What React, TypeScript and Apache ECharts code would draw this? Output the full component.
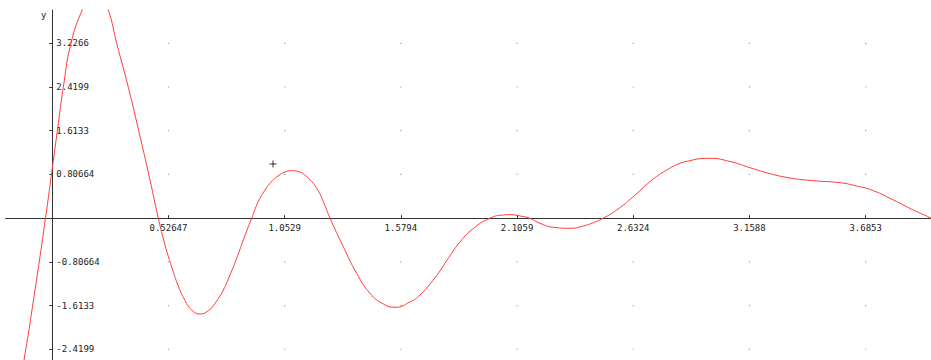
import React, { useEffect, useRef } from "react";
import * as echarts from "echarts";

const xTickValues = [0.52647, 1.0529, 1.5794, 2.1059, 2.6324, 3.1588, 3.6853];
const xTickLabels = ["0.52647", "1.0529", "1.5794", "2.1059", "2.6324", "3.1588", "3.6853"];
const yTickValues = [-2.4199, -1.6133, -0.80664, 0.80664, 1.6133, 2.4199, 3.2266];
const yTickLabels = ["-2.4199", "-1.6133", "-0.80664", "0.80664", "1.6133", "2.4199", "3.2266"];

const xRange = [-0.2118, 4.0];
const yRange = [-2.618, 3.841];

const curveX = [
  -0.2116, -0.1282, -0.0784, -0.0308, 0, 0.0227, 0.0498, 0.0847, 0.1391, 0.1844,
  0.2207, 0.2537, 0.2918, 0.3444, 0.3897, 0.4427, 0.4803, 0.5106, 0.541, 0.5709,
  0.6013, 0.6316, 0.6692, 0.7068, 0.7372, 0.7748, 0.8052, 0.8355, 0.8654, 0.9035,
  0.9334, 0.9638, 0.9864, 1.0227, 1.0544, 1.0847, 1.1133, 1.1527, 1.198, 1.2279,
  1.2583, 1.3185, 1.3792, 1.4395, 1.4998, 1.5528, 1.6208, 1.6661, 1.7114, 1.7567,
  1.787, 1.8473, 1.9076, 1.9832, 2.0435, 2.0738, 2.1192, 2.1613, 2.2098, 2.2701,
  2.3457, 2.406, 2.4513, 2.4966, 2.5573, 2.6325, 2.7082, 2.7839, 2.8441, 2.8894,
  2.9347, 2.98, 3.0707, 3.1581, 3.237, 3.3425, 3.4481, 3.5691, 3.6448, 3.72,
  3.8106, 3.9012, 3.9769, 4.0,
];
const curveY = [
  -4.555, -2.618, -1.326, 0.0, 0.925, 1.608, 2.415, 3.227, 3.878, 4.211,
  4.099, 3.841, 3.227, 2.415, 1.645, 0.704, 0.0, -0.495, -0.901, -1.252,
  -1.52, -1.695, -1.769, -1.708, -1.571, -1.326, -1.049, -0.741, -0.403, 0.0,
  0.304, 0.519, 0.643, 0.778, 0.852, 0.876, 0.861, 0.765, 0.551, 0.304,
  0.0, -0.527, -1.018, -1.387, -1.584, -1.645, -1.547, -1.418, -1.215, -0.975,
  -0.782, -0.44, -0.191, 0.0, 0.058, 0.064, 0.04, 0.0, -0.095, -0.169,
  -0.187, -0.145, -0.084, 0.0, 0.15, 0.396, 0.673, 0.889, 1.012, 1.06,
  1.097, 1.104, 1.045, 0.935, 0.837, 0.741, 0.691, 0.654, 0.593, 0.507,
  0.335, 0.15, 0.008, -0.053,
];

const markerPoint = [1.0, 1.0];

const FONT = "DejaVu Sans Mono";
const PX_PER_X = 220.7;
const PLOT_TOP = 10;
const PLOT_HEIGHT = 350;
const ORIGIN_X = 52.3;

function labelFor(values: number[], labels: string[]) {
  return (v: number) => {
    for (let i = 0; i < values.length; i++) {
      if (Math.abs(values[i] - v) < 1e-6) return labels[i];
    }
    return "";
  };
}

export default function App() {
  const ref = useRef<HTMLDivElement>(null);

  useEffect(() => {
    if (!ref.current) return;
    const chart = echarts.init(ref.current, undefined, { renderer: "svg" });

    const gridDots: number[][] = [];
    xTickValues.forEach((x) => yTickValues.forEach((y) => gridDots.push([x, y])));

    const plotLeft = ORIGIN_X + xRange[0] * PX_PER_X;
    const plotWidth = (xRange[1] - xRange[0]) * PX_PER_X;
    // move axes so they cross at the origin
    const xAxisOffset = -((0 - yRange[0]) / (yRange[1] - yRange[0])) * PLOT_HEIGHT;
    const yAxisOffset = -((0 - xRange[0]) / (xRange[1] - xRange[0])) * plotWidth;

    chart.setOption({
      animation: false,
      backgroundColor: "#ffffff",
      grid: {
        left: plotLeft,
        width: plotWidth,
        top: PLOT_TOP,
        height: PLOT_HEIGHT,
        containLabel: false,
        outerBoundsMode: "none",
      },
      xAxis: {
        type: "value",
        position: "bottom",
        offset: xAxisOffset,
        min: xRange[0],
        max: xRange[1],
        axisLine: { show: true, onZero: false, lineStyle: { color: "#333", width: 1 } },
        axisTick: { show: true, inside: true, length: 3, customValues: xTickValues, lineStyle: { color: "#333" } },
        axisLabel: {
          show: true,
          customValues: xTickValues,
          formatter: labelFor(xTickValues, xTickLabels),
          margin: 5,
          fontFamily: FONT,
          fontSize: 9,
          color: "#222",
        },
        splitLine: { show: false },
      },
      yAxis: {
        type: "value",
        position: "left",
        offset: yAxisOffset,
        min: yRange[0],
        max: yRange[1],
        name: "y",
        nameLocation: "end",
        nameGap: 0,
        nameTextStyle: {
          fontFamily: FONT,
          fontSize: 9,
          color: "#222",
          align: "right",
          verticalAlign: "top",
          padding: [0, 6, 0, 0],
        },
        axisLine: { show: true, onZero: false, lineStyle: { color: "#333", width: 1 } },
        axisTick: { show: true, inside: false, length: 3, customValues: yTickValues, lineStyle: { color: "#333" } },
        axisLabel: {
          show: true,
          inside: true,
          customValues: yTickValues,
          formatter: labelFor(yTickValues, yTickLabels),
          margin: 4,
          fontFamily: FONT,
          fontSize: 9,
          color: "#222",
        },
        splitLine: { show: false },
      },
      series: [
        {
          type: "scatter",
          data: gridDots,
          symbol: "rect",
          symbolSize: 1.2,
          itemStyle: { color: "#888" },
          silent: true,
          z: 1,
        },
        {
          type: "line",
          data: curveX.map((x, i) => [x, curveY[i]]),
          smooth: 0.5,
          showSymbol: false,
          clip: true,
          lineStyle: { color: "#ff3b3b", width: 1 },
          z: 3,
        },
        {
          type: "scatter",
          data: [markerPoint],
          symbol: "path://M5,0L5,10M0,5L10,5",
          symbolSize: 7,
          itemStyle: { color: "none", borderColor: "#000", borderWidth: 1 },
          z: 4,
        },
      ],
    });

    return () => chart.dispose();
  }, []);

  return (
    <div
      ref={ref}
      style={{ position: "fixed", left: 0, top: 0, width: 931, height: 360, background: "#fff" }}
    />
  );
}
